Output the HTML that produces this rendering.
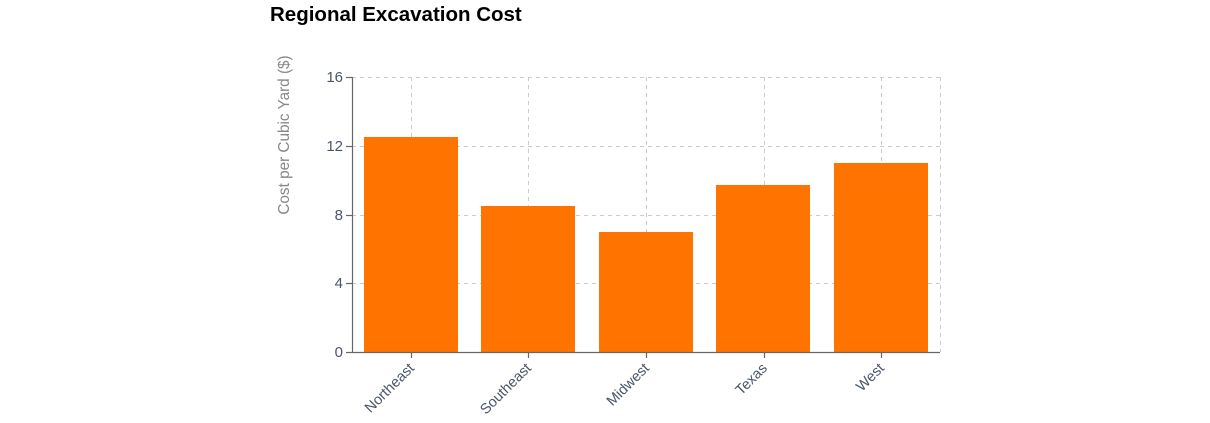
<!DOCTYPE html>
<html><head><style>
html,body{margin:0;padding:0;background:#fff;}
svg{display:block;font-family:"Liberation Sans",sans-serif;}
</style></head><body>
<svg width="1210" height="423" xmlns="http://www.w3.org/2000/svg">
<text x="270" y="21" font-size="20.5" font-weight="bold" fill="#000">Regional Excavation Cost</text>
<g stroke="#ccc" stroke-dasharray="4,4" stroke-width="1">
<line x1="352" y1="77.5" x2="940" y2="77.5"/>
<line x1="352" y1="146.5" x2="940" y2="146.5"/>
<line x1="352" y1="215.5" x2="940" y2="215.5"/>
<line x1="352" y1="283.5" x2="940" y2="283.5"/>
<line x1="940.5" y1="77" x2="940.5" y2="352"/>
<line x1="411.5" y1="77" x2="411.5" y2="352"/>
<line x1="528.5" y1="77" x2="528.5" y2="352"/>
<line x1="646.5" y1="77" x2="646.5" y2="352"/>
<line x1="764.5" y1="77" x2="764.5" y2="352"/>
<line x1="881.5" y1="77" x2="881.5" y2="352"/>
</g>
<g fill="#ff7300">
<rect x="364" y="137" width="94" height="215"/>
<rect x="481" y="206" width="94" height="146"/>
<rect x="599" y="232" width="94" height="120"/>
<rect x="716" y="185" width="94" height="167"/>
<rect x="834" y="163" width="94" height="189"/>
</g>
<g stroke="#666" stroke-width="1.2">
<line x1="352.5" y1="77" x2="352.5" y2="352"/>
<line x1="352" y1="352.5" x2="940" y2="352.5"/>
<line x1="346" y1="77.5" x2="352" y2="77.5"/>
<line x1="346" y1="146.5" x2="352" y2="146.5"/>
<line x1="346" y1="215.5" x2="352" y2="215.5"/>
<line x1="346" y1="283.5" x2="352" y2="283.5"/>
<line x1="346" y1="352.5" x2="352" y2="352.5"/>
<line x1="411.5" y1="352" x2="411.5" y2="358"/>
<line x1="528.5" y1="352" x2="528.5" y2="358"/>
<line x1="646.5" y1="352" x2="646.5" y2="358"/>
<line x1="764.5" y1="352" x2="764.5" y2="358"/>
<line x1="881.5" y1="352" x2="881.5" y2="358"/>
</g>
<g font-size="15" fill="#4a5568" text-anchor="end">
<text x="343" y="82">16</text>
<text x="343" y="151">12</text>
<text x="343" y="220">8</text>
<text x="343" y="288">4</text>
<text x="343" y="357">0</text>
</g>
<g font-size="14.5" fill="#4a5568" text-anchor="end">
<text transform="translate(415,369) rotate(-45)">Northeast</text>
<text transform="translate(532,369) rotate(-45)">Southeast</text>
<text transform="translate(650,369) rotate(-45)">Midwest</text>
<text transform="translate(768,369) rotate(-45)">Texas</text>
<text transform="translate(885,369) rotate(-45)">West</text>
</g>
<text transform="translate(289,135) rotate(-90)" font-size="15.3" fill="#888" text-anchor="middle">Cost per Cubic Yard ($)</text>
</svg>
</body></html>
